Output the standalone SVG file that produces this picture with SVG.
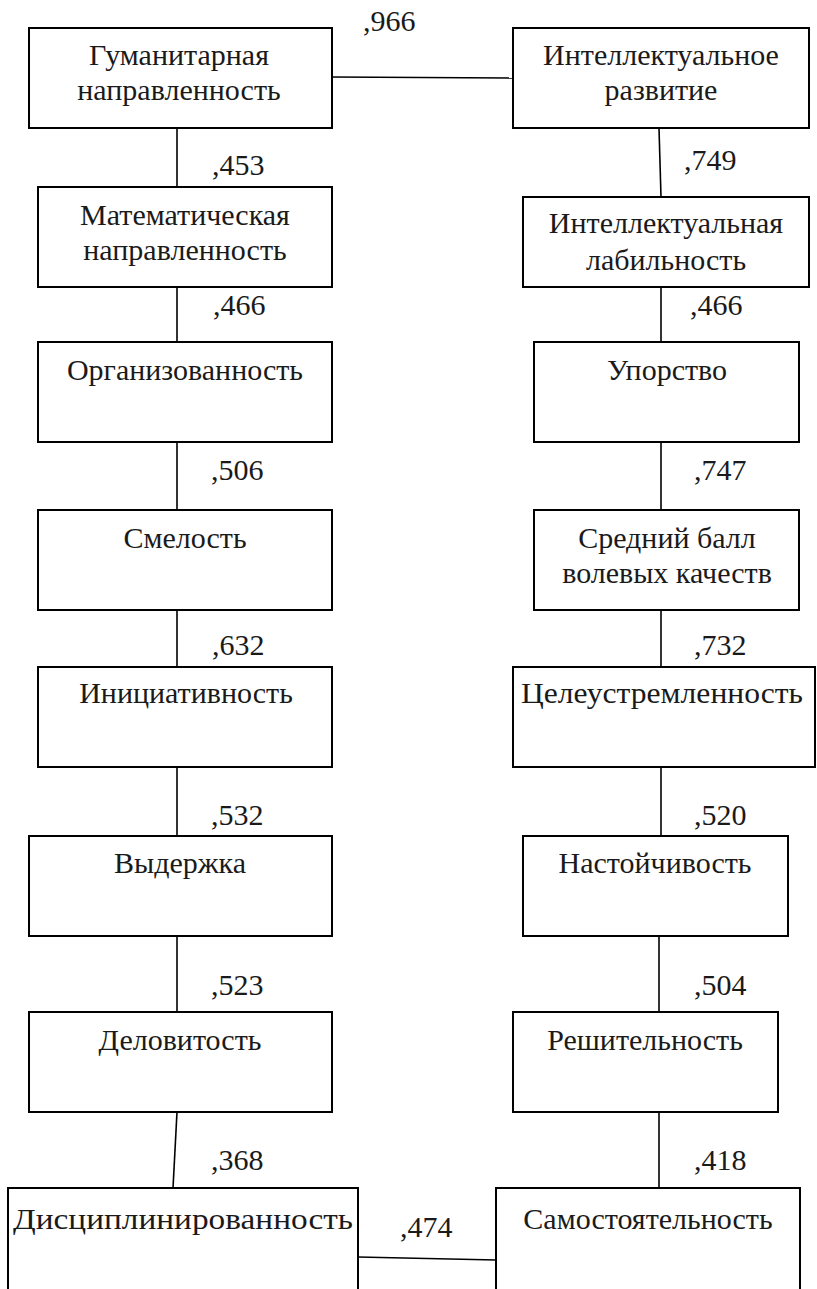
<svg xmlns="http://www.w3.org/2000/svg" width="817" height="1289" viewBox="0 0 817 1289">
<style>
.box{fill:#fff;stroke:#000;stroke-width:2}
.t{font-family:'Liberation Serif','DejaVu Serif',serif;font-size:30px;fill:#1a1a1a;text-anchor:middle}
.l{font-family:'Liberation Serif','DejaVu Serif',serif;font-size:30px;fill:#1a1a1a}
.c{stroke:#000;stroke-width:1.6;fill:none}
</style>
<rect width="817" height="1289" fill="#fff"/>
<g id="connectors">
<line class="c" x1="332" y1="77" x2="513" y2="78"/>
<line class="c" x1="177" y1="128" x2="177" y2="187"/>
<line class="c" x1="177" y1="287" x2="177" y2="342"/>
<line class="c" x1="177" y1="442" x2="177" y2="510"/>
<line class="c" x1="177" y1="610" x2="177" y2="667"/>
<line class="c" x1="177" y1="767" x2="177" y2="836"/>
<line class="c" x1="177" y1="936" x2="177" y2="1012"/>
<line class="c" x1="177" y1="1112" x2="173" y2="1188"/>
<line class="c" x1="659" y1="128" x2="661" y2="197"/>
<line class="c" x1="661" y1="287" x2="661" y2="342"/>
<line class="c" x1="661" y1="442" x2="661" y2="510"/>
<line class="c" x1="661" y1="610" x2="661" y2="667"/>
<line class="c" x1="661" y1="767" x2="661" y2="836"/>
<line class="c" x1="659" y1="936" x2="659" y2="1012"/>
<line class="c" x1="659" y1="1112" x2="659" y2="1188"/>
<line class="c" x1="358" y1="1257" x2="496" y2="1260"/>
<text class="l" x="363" y="31">,966</text>
<text class="l" x="212" y="175">,453</text>
<text class="l" x="213" y="315">,466</text>
<text class="l" x="211" y="480">,506</text>
<text class="l" x="212" y="655">,632</text>
<text class="l" x="211" y="825">,532</text>
<text class="l" x="211" y="995">,523</text>
<text class="l" x="211" y="1170">,368</text>
<text class="l" x="400" y="1237">,474</text>
<text class="l" x="684" y="170">,749</text>
<text class="l" x="690" y="315">,466</text>
<text class="l" x="694" y="480">,747</text>
<text class="l" x="694" y="655">,732</text>
<text class="l" x="694" y="825">,520</text>
<text class="l" x="694" y="995">,504</text>
<text class="l" x="694" y="1170">,418</text>
</g>
<g id="n-gum"><rect class="box" x="29" y="28" width="303" height="100"/><text class="t" x="179" y="65">Гуманитарная</text><text class="t" x="179" y="100">направленность</text></g>
<g id="n-mat"><rect class="box" x="38" y="187" width="294" height="100"/><text class="t" x="185" y="225">Математическая</text><text class="t" x="185" y="260">направленность</text></g>
<g id="n-org"><rect class="box" x="38" y="342" width="294" height="100"/><text class="t" x="185" y="380">Организованность</text></g>
<g id="n-sme"><rect class="box" x="38" y="510" width="294" height="100"/><text class="t" x="185" y="548">Смелость</text></g>
<g id="n-ini"><rect class="box" x="38" y="667" width="294" height="100"/><text class="t" x="186" y="703">Инициативность</text></g>
<g id="n-vyd"><rect class="box" x="29" y="836" width="303" height="100"/><text class="t" x="180" y="873">Выдержка</text></g>
<g id="n-del"><rect class="box" x="29" y="1012" width="303" height="100"/><text class="t" x="180" y="1050">Деловитость</text></g>
<g id="n-dis"><rect class="box" x="8" y="1188" width="350" height="120"/><text class="t" x="183" y="1229" textLength="340" lengthAdjust="spacingAndGlyphs">Дисциплинированность</text></g>
<g id="n-int"><rect class="box" x="513" y="28" width="296" height="100"/><text class="t" x="661" y="65">Интеллектуальное</text><text class="t" x="661" y="100">развитие</text></g>
<g id="n-lab"><rect class="box" x="523" y="197" width="286" height="90"/><text class="t" x="666" y="233">Интеллектуальная</text><text class="t" x="666" y="270">лабильность</text></g>
<g id="n-upo"><rect class="box" x="534" y="342" width="265" height="100"/><text class="t" x="667" y="380">Упорство</text></g>
<g id="n-sre"><rect class="box" x="534" y="510" width="265" height="100"/><text class="t" x="667" y="548">Средний балл</text><text class="t" x="667" y="583">волевых качеств</text></g>
<g id="n-cel"><rect class="box" x="513" y="667" width="302" height="100"/><text class="t" x="662" y="703" textLength="282" lengthAdjust="spacingAndGlyphs">Целеустремленность</text></g>
<g id="n-nas"><rect class="box" x="523" y="836" width="265" height="100"/><text class="t" x="655" y="873">Настойчивость</text></g>
<g id="n-res"><rect class="box" x="513" y="1012" width="265" height="100"/><text class="t" x="645" y="1050">Решительность</text></g>
<g id="n-sam"><rect class="box" x="496" y="1188" width="304" height="120"/><text class="t" x="648" y="1229">Самостоятельность</text></g>
</svg>
